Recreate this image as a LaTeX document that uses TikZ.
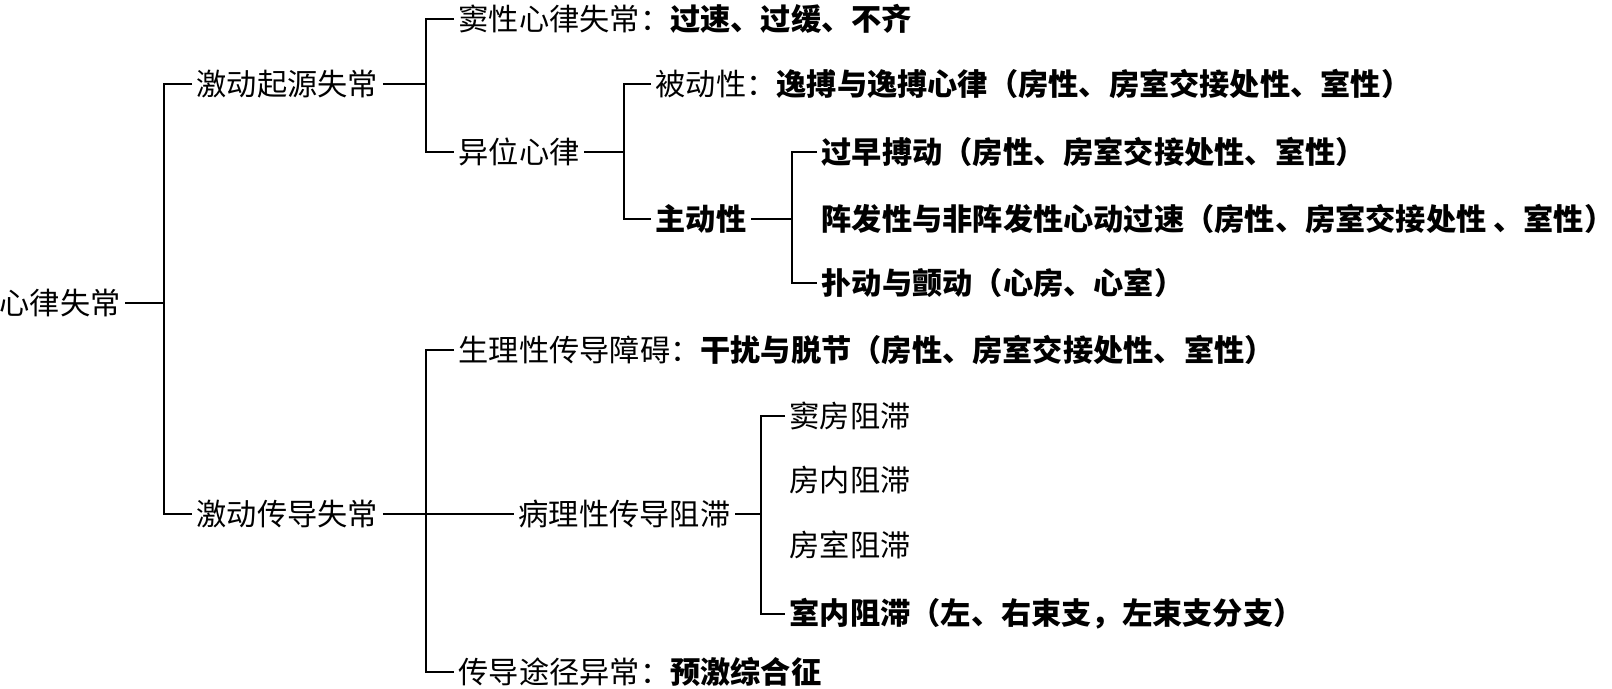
\documentclass[tikz,border=0pt]{standalone}
\usepackage{fontspec}
\newfontfamily\cjk{Noto Sans CJK SC}

\begin{document}
\begin{tikzpicture}[x=0.02cm,y=-0.02cm]
		\tikzstyle{every node}=[anchor=west,inner xsep=2.5pt,inner ysep=0pt,font=\cjk\fontsize{17.2}{20}\selectfont]
		\tikzstyle{brace}=[draw,line width=1.1pt]

		\useasboundingbox (0,0) rectangle (1612,689);

		% bracket columns
		\coordinate (b1) at (164,0);
		\coordinate (b2) at (426,0);
		\coordinate (b3) at (624,0);
		\coordinate (b4) at (792,0);
		\coordinate (b5) at (426,0);
		\coordinate (b6) at (761,0);

		\node (root) at (-5,303) {心律失常};

		\node (origin) at (192,84) {激动起源失常};
		\node (sinus) at (454,19) {窦性心律失常：\textbf{过速、过缓、不齐}};
		\node (ectopic) at (454,152) {异位心律};
		\node (passive) at (651,84) {被动性：\textbf{逸搏与逸搏心律（房性、房室交接处性、室性）}};
		\node (active) at (651,219) {\textbf{主动性}};
		\node (premature) at (817,152) {\textbf{过早搏动（房性、房室交接处性、室性）}};
		\node (tachy) at (817,219) {\textbf{阵发性与非阵发性心动过速（房性、房室交接处性 、室性）}};
		\node (flutter) at (817,283) {\textbf{扑动与颤动（心房、心室）}};

		\node (conduct) at (192,514) {激动传导失常};
		\node (physio) at (454,350) {生理性传导障碍：\textbf{干扰与脱节（房性、房室交接处性、室性）}};
		\node (patho) at (514,514) {病理性传导阻滞};
		\node (sablock) at (785,416) {窦房阻滞};
		\node (iablock) at (785,480) {房内阻滞};
		\node (avblock) at (785,545) {房室阻滞};
		\node (ivblock) at (785,614) {\textbf{室内阻滞（左、右束支，左束支分支）}};
		\node (preexc) at (454,672) {传导途径异常：\textbf{预激综合征}};

		\path [brace] (root.east) -- (root.east -| b1);
		\path [brace] (origin.west) -- (origin.west -| b1) -- (conduct.west -| b1) -- (conduct.west);

		\path [brace] (origin.east) -- (origin.east -| b2);
		\path [brace] (sinus.west) -- (sinus.west -| b2) -- (ectopic.west -| b2) -- (ectopic.west);

		\path [brace] (ectopic.east) -- (ectopic.east -| b3);
		\path [brace] (passive.west) -- (passive.west -| b3) -- (active.west -| b3) -- (active.west);

		\path [brace] (active.east) -- (active.east -| b4);
		\path [brace] (premature.west) -- (premature.west -| b4) -- (flutter.west -| b4) -- (flutter.west);

		\path [brace] (conduct.east) -- (conduct.east -| b5);
		\path [brace] (physio.west) -- (physio.west -| b5) -- (preexc.west -| b5) -- (preexc.west);
		\path [brace] (patho.west -| b5) -- (patho.west);

		\path [brace] (patho.east) -- (patho.east -| b6);
		\path [brace] (sablock.west) -- (sablock.west -| b6) -- (ivblock.west -| b6) -- (ivblock.west);
	\end{tikzpicture}
\end{document}
